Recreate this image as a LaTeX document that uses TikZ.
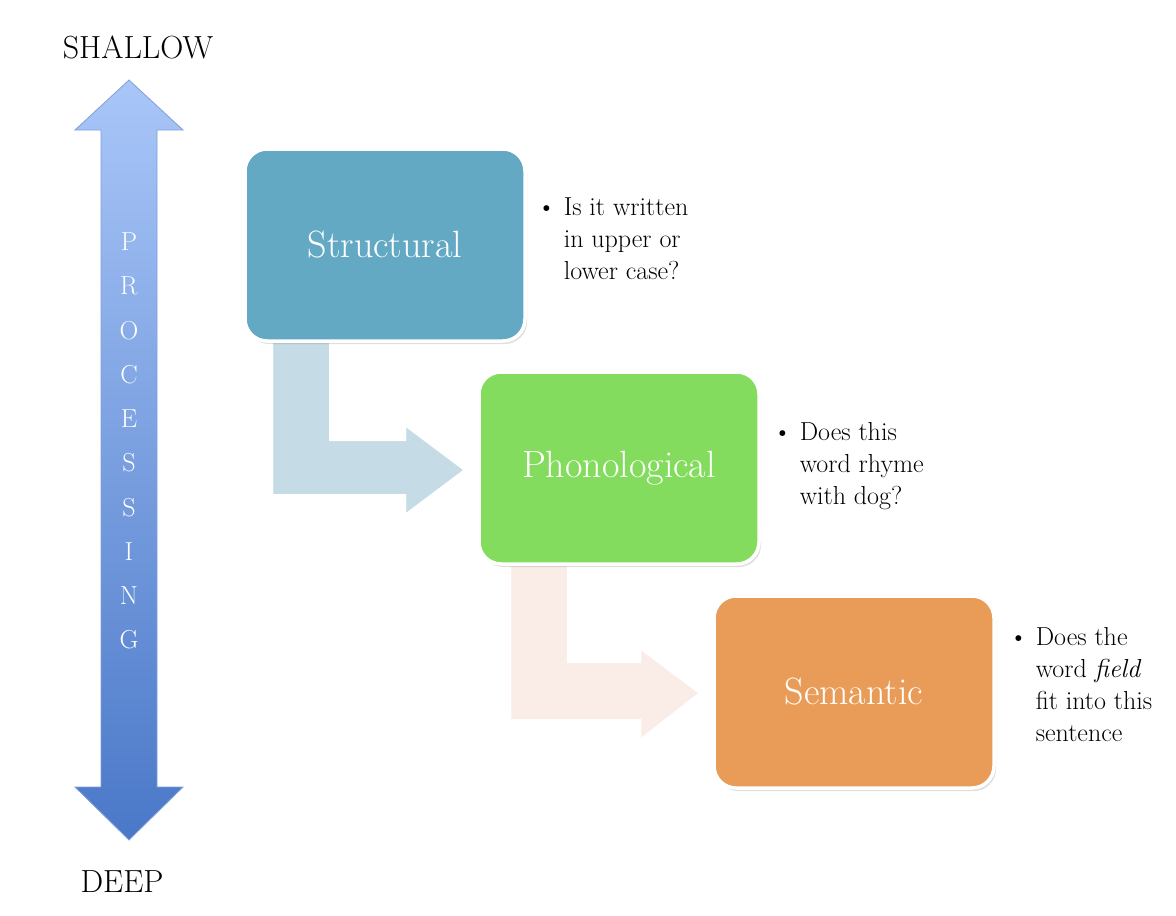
\documentclass[tikz,border=0pt]{standalone}
\usetikzlibrary{shadows}
\begin{document}
\begin{tikzpicture}[x=1pt,y=-1pt,
  box/.style={draw=white,line width=3.5pt,rounded corners=22pt,minimum width=280pt,minimum height=192pt,text=white,font=\fontsize{38}{40}\selectfont,drop shadow={opacity=0.25,shadow xshift=2pt,shadow yshift=-3pt}},
  bul/.style={anchor=north west,align=left,font=\fontsize{26}{32}\selectfont,inner sep=0pt},
  bent/.style={draw=white,line width=2pt},
  letter/.style={text=white,font=\fontsize{26}{28}\selectfont}]
\useasboundingbox (0,0) rectangle (1176,916);
\definecolor{sc}{HTML}{64A9C3}\definecolor{pc}{HTML}{84DC5E}\definecolor{ec}{HTML}{E99C57}
\definecolor{atop}{HTML}{A9C6F8}\definecolor{abot}{HTML}{4A78C8}
% double arrow
\shade[top color=atop,bottom color=abot,draw=abot!70,line width=0.8pt]
 (129,80) -- (183,130) -- (157,130) -- (157,787) -- (183,787) -- (129,840) -- (75,787) -- (101,787) -- (101,130) -- (75,130) -- cycle;
\node (sh) at (138,47) {\fontsize{32}{34}\selectfont SHALLOW};
\node (dp) at (122,882) {\fontsize{32}{34}\selectfont DEEP};
\foreach \l [count=\i from 0] in {P,R,O,C,E,S,S,I,N,G}
  \node[letter] (L\i) at (129,242+44.2*\i) {\l};
% bent arrows
\fill[bent,fill={rgb,255:red,197;green,219;blue,229}] (272,330) -- (330,330) -- (330,440) -- (405,440) -- (405,425) -- (465,470) -- (405,515) -- (405,495) -- (272,495) -- cycle;
\fill[bent,fill={rgb,255:red,250;green,237;blue,231}] (510,555) -- (568,555) -- (568,662) -- (640,662) -- (640,648) -- (700,693) -- (640,740) -- (640,720) -- (510,720) -- cycle;
\draw[bent] (405,440) -- (405,425) -- (465,470) -- (405,515) -- (405,495) -- (272,495) -- (272,345);
\draw[bent] (640,662) -- (640,648) -- (700,693) -- (640,740) -- (640,720) -- (510,720) -- (510,570);
% boxes
\node[box,fill=sc] (s) at (385,245) {Structural};
\node[box,fill=pc] (p) at (619,468) {Phonological};
\node[box,fill=ec] (e) at (854,692) {Semantic};
% bullets
\node[bul] (b1) at (537,198) {\textbullet\ Is it written\\\hphantom{\textbullet\ }in upper or\\\hphantom{\textbullet\ }lower case?};
\node[bul] (b2) at (773,422) {\textbullet\ Does this\\\hphantom{\textbullet\ }word rhyme\\\hphantom{\textbullet\ }with dog?};
\node[bul] (b3) at (1009,627) {\textbullet\ Does the\\\hphantom{\textbullet\ }word \textit{field}\\\hphantom{\textbullet\ }fit into this\\\hphantom{\textbullet\ }sentence};
\end{tikzpicture}
\end{document}
